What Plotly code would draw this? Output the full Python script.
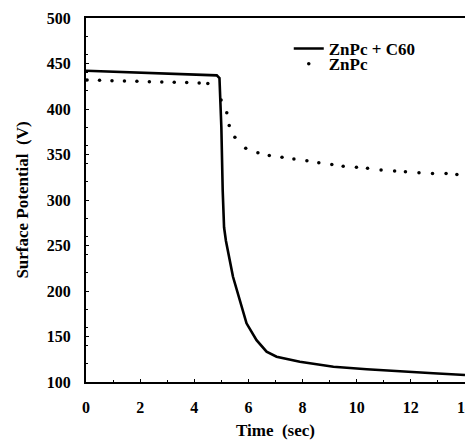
import plotly.graph_objects as go

# ZnPc + C60 (solid line)
t_c60 = [0.0, 1.0, 2.0, 3.0, 4.0, 4.6, 4.83, 4.93, 5.0, 5.05, 5.1, 5.17, 5.43, 5.93, 6.3, 6.67, 7.04, 7.9, 9.14, 10.37, 11.6, 12.83, 14.0]
v_c60 = [442, 441, 440, 439, 438.5, 438, 437, 434, 380, 310, 270, 255, 215.6, 164.5, 146, 133.3, 127.8, 122.3, 116.8, 114, 111.4, 109.6, 107.7]

# ZnPc (dotted)
t_znpc = [0.04, 0.5, 0.96, 1.42, 1.88, 2.34, 2.8, 3.26, 3.72, 4.18, 4.5, 4.99, 5.2, 5.29, 5.5, 5.9, 6.35, 6.77, 7.24, 7.68, 8.16, 8.6, 9.08, 9.5, 9.99, 10.4, 10.9, 11.4, 11.8, 12.3, 12.8, 13.3, 13.7]
v_znpc = [432, 431.5, 431, 430.8, 430.5, 430, 429.7, 429.3, 429, 428.6, 428, 410, 396, 382, 369, 357, 352, 349, 347, 345, 343, 341, 339, 337, 336, 335, 333, 332, 331, 330, 329, 329, 328]

x_ticks = [0, 2, 4, 6, 8, 10, 12, 14]
y_ticks = [100, 150, 200, 250, 300, 350, 400, 450, 500]

FF = "Liberation Serif"

fig = go.Figure()
fig.add_trace(go.Scatter(x=t_c60, y=v_c60, mode="lines", name="ZnPc + C60",
                         line=dict(color="black", width=2.6), legend="legend"))
fig.add_trace(go.Scatter(x=t_znpc, y=v_znpc, mode="markers", name="ZnPc",
                         marker=dict(color="black", size=3.5), legend="legend2"))

axis_common = dict(showgrid=False, zeroline=False, showline=True, linecolor="black",
                   linewidth=2, mirror=True, ticks="inside", ticklen=3, tickwidth=1,
                   tickcolor="black", automargin=False,
                   tickfont=dict(family=FF, size=16, color="black", weight="bold"),
                   minor=dict(ticks="inside", ticklen=2, tickcolor="black", nticks=5))

fig.update_xaxes(range=[0, 14], tickvals=x_ticks, ticktext=[str(v) for v in x_ticks],
                 ticklabelstandoff=10,
                 title=dict(text="Time  (sec)", standoff=14,
                            font=dict(family=FF, size=17, color="black", weight="bold")),
                 **axis_common)
fig.update_yaxes(range=[100, 500], tickvals=y_ticks, ticktext=[str(v) for v in y_ticks],
                 ticklabelstandoff=10,
                 title=dict(text="Surface Potential  (V)", standoff=14,
                            font=dict(family=FF, size=17, color="black", weight="bold")),
                 **axis_common)

leg_common = dict(xanchor="left", yanchor="middle", bgcolor="rgba(0,0,0,0)", borderwidth=0,
                  itemwidth=30, font=dict(family=FF, size=17, color="black", weight="bold"))

# page body has an 8px default margin, so the figure is sized to fit the window
fig.update_layout(
    width=465, height=432,
    margin=dict(l=78, r=8, t=10, b=58),
    plot_bgcolor="white", paper_bgcolor="white",
    showlegend=True,
    legend=dict(x=0.535, y=0.915, **leg_common),
    legend2=dict(x=0.535, y=0.873, **leg_common),
)

fig.write_html("out.html")
